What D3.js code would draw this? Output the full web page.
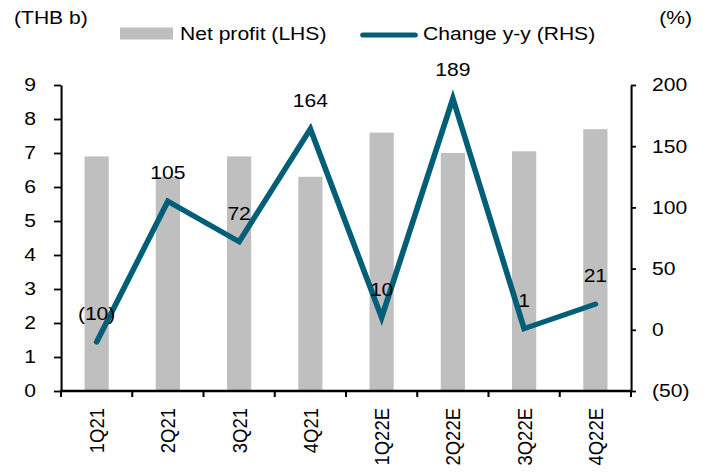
<!DOCTYPE html>
<html>
<head>
<meta charset="utf-8">
<script src="https://cdn.jsdelivr.net/npm/d3@7"></script>
<style>
  body { margin: 0; background: #fff; }
  svg text { font-family: "Liberation Sans", Arial, sans-serif; fill: #000; }
</style>
</head>
<body>
<svg id="chart"></svg>
<script>
// data
const categories = ["1Q21", "2Q21", "3Q21", "4Q21", "1Q22E", "2Q22E", "3Q22E", "4Q22E"];
const netProfit = [6.9, 6.3, 6.9, 6.3, 7.6, 7.0, 7.05, 7.7];
const changeYY = [-10, 105, 72, 164, 10, 189, 1, 21];
const leftTicks = [0, 1, 2, 3, 4, 5, 6, 7, 8, 9];
const rightTicks = [-50, 0, 50, 100, 150, 200];

const W = 707, H = 475;
// the original is a bit wider than tall, so stretch everything horizontally
const S = 1.14;
const px = v => v / S;

const barColor = "#bfbfbf";
const lineColor = "#005f77";
const fontSize = "18.5px";

const svg = d3.select("#chart")
    .attr("width", W)
    .attr("height", H);

const root = svg.append("g")
    .attr("transform", `scale(${S},1)`);

const plot = {left: px(61), right: px(631), top: 85, bottom: 391};

const xScale = d3.scaleBand()
    .domain(categories)
    .range([plot.left, plot.right])
    .padding(0);

const yLeft = d3.scaleLinear()
    .domain([0, 9])
    .range([plot.bottom, plot.top]);

const yRight = d3.scaleLinear()
    .domain([-50, 200])
    .range([plot.bottom, plot.top]);

const fmt = d => d < 0 ? `(${Math.abs(d)})` : `${d}`;

// bars
const barW = xScale.bandwidth() * 0.34;
root.append("g")
  .selectAll("rect")
  .data(netProfit)
  .join("rect")
    .attr("x", (d, i) => xScale(categories[i]) + xScale.bandwidth() / 2 - barW / 2)
    .attr("y", d => yLeft(d))
    .attr("width", barW)
    .attr("height", d => yLeft(0) - yLeft(d))
    .attr("fill", barColor);

// left axis
const leftAxis = root.append("g")
    .attr("transform", `translate(${plot.left},0)`)
    .call(d3.axisLeft(yLeft).tickValues(leftTicks).tickSize(px(7)).tickPadding(px(18)).tickSizeOuter(0));

// right axis
const rightAxis = root.append("g")
    .attr("transform", `translate(${plot.right},0)`)
    .call(d3.axisRight(yRight).tickValues(rightTicks).tickFormat(fmt).tickSize(px(5)).tickPadding(px(16)).tickSizeOuter(0));

// x axis, ticks between categories
const bounds = categories.map(c => xScale(c)).concat([plot.right]);
const xAxisG = root.append("g");
xAxisG.append("line")
    .attr("x1", plot.left - px(1)).attr("x2", plot.right + px(1))
    .attr("y1", plot.bottom).attr("y2", plot.bottom)
    .attr("stroke", "#000").attr("stroke-width", 2.5);
xAxisG.selectAll(".tk")
  .data(bounds)
  .join("line")
    .attr("class", "tk")
    .attr("x1", d => d).attr("x2", d => d)
    .attr("y1", plot.bottom).attr("y2", plot.bottom + 6)
    .attr("stroke", "#000").attr("stroke-width", 1.8);
xAxisG.selectAll(".cat")
  .data(categories)
  .join("text")
    .attr("class", "cat")
    .attr("transform", d => `translate(${xScale(d) + xScale.bandwidth() / 2},408) rotate(-90)`)
    .attr("text-anchor", "end")
    .attr("dy", "0.35em")
    .attr("font-size", fontSize)
    .text(d => d);

[leftAxis, rightAxis].forEach(g => {
  g.select(".domain").attr("stroke", "#000").attr("stroke-width", 1.8);
  g.selectAll(".tick line").attr("stroke", "#000").attr("stroke-width", 1.8);
  g.selectAll(".tick text")
    .attr("font-size", fontSize)
    .attr("font-family", "Liberation Sans, Arial, sans-serif")
    .attr("fill", "#000");
});

// line
const line = d3.line()
    .x((d, i) => xScale(categories[i]) + xScale.bandwidth() / 2)
    .y(d => yRight(d));

root.append("path")
    .datum(changeYY)
    .attr("d", line)
    .attr("fill", "none")
    .attr("stroke", lineColor)
    .attr("stroke-width", 5)
    .attr("stroke-linecap", "round");

// data labels
root.append("g")
  .selectAll("text")
  .data(changeYY)
  .join("text")
    .attr("x", (d, i) => xScale(categories[i]) + xScale.bandwidth() / 2)
    .attr("y", d => yRight(d) - 22)
    .attr("text-anchor", "middle")
    .attr("font-size", fontSize)
    .text(fmt);

// unit labels
root.append("text")
    .attr("x", px(14)).attr("y", 24)
    .attr("font-size", fontSize)
    .text("(THB b)");
root.append("text")
    .attr("x", px(692)).attr("y", 24)
    .attr("text-anchor", "end")
    .attr("font-size", fontSize)
    .text("(%)");

// legend
const legend = root.append("g");
legend.append("rect")
    .attr("x", px(120)).attr("y", 27.5)
    .attr("width", px(53)).attr("height", 12)
    .attr("fill", barColor);
legend.append("text")
    .attr("x", px(180)).attr("y", 40)
    .attr("font-size", fontSize)
    .text("Net profit (LHS)");
legend.append("line")
    .attr("x1", px(363)).attr("x2", px(415))
    .attr("y1", 35).attr("y2", 35)
    .attr("stroke", lineColor)
    .attr("stroke-width", 5)
    .attr("stroke-linecap", "round");
legend.append("text")
    .attr("x", px(423)).attr("y", 40)
    .attr("font-size", fontSize)
    .text("Change y-y (RHS)");
</script>
</body>
</html>
